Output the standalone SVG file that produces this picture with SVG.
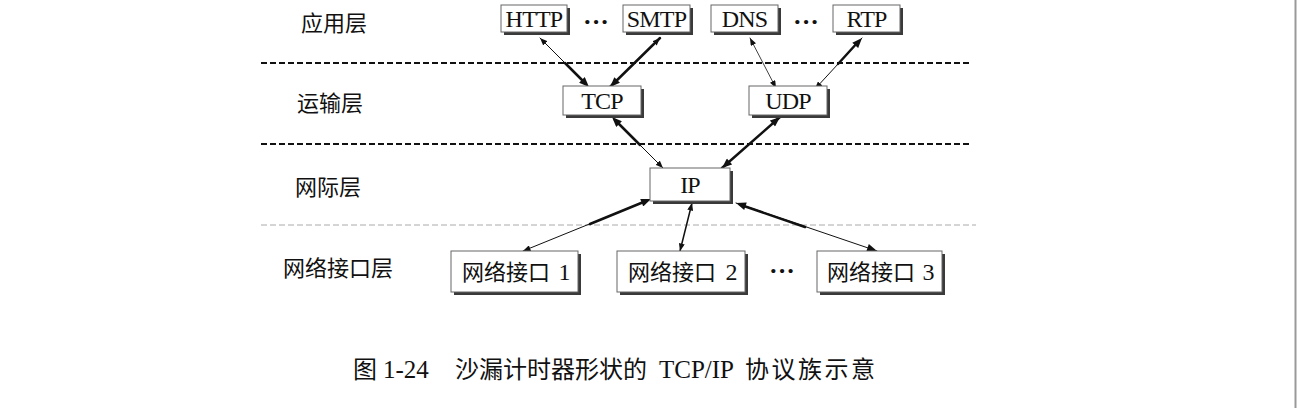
<svg xmlns="http://www.w3.org/2000/svg" width="1297" height="408" viewBox="0 0 1297 408">
<style>
.bx{fill:#fff;stroke:#666;stroke-width:1}
.sh{fill:#3a3a3a}
.lt{font-family:"Liberation Serif","Noto Sans CJK SC",serif;font-size:24px;letter-spacing:-0.8px;fill:#111;text-anchor:middle}
.cj{font-family:"Noto Sans CJK SC",sans-serif;font-size:22px;letter-spacing:0;fill:#111}
.dots{font-family:"Liberation Serif",serif;font-size:26px;font-weight:bold;fill:#111;text-anchor:middle}
.cap{font-family:"Liberation Serif","Noto Sans CJK SC",serif;font-size:25px;fill:#111}
.capc{font-family:"Noto Sans CJK SC",sans-serif;font-size:24px;fill:#111}
.dl{stroke:#111;stroke-width:2.2;stroke-dasharray:6 3;fill:none}
.dg{stroke:#aaa;stroke-width:1;stroke-dasharray:6 3;fill:none}
.c{stroke:#111;fill:none;stroke-linecap:round}
</style>
<defs>
<marker id="hb" markerUnits="userSpaceOnUse" viewBox="0 0 10 8" refX="10" refY="4" markerWidth="11" markerHeight="8" orient="auto-start-reverse"><path d="M0,0 L10,4 L0,8 z" fill="#111"/></marker>
<marker id="hs" markerUnits="userSpaceOnUse" viewBox="0 0 10 8" refX="10" refY="4" markerWidth="8" markerHeight="6" orient="auto-start-reverse"><path d="M0,0 L10,4 L0,8 z" fill="#111"/></marker>
</defs>
<rect width="1297" height="408" fill="#fff"/>
<line x1="1295.5" y1="0" x2="1295.5" y2="408" stroke="#999" stroke-width="2"/>

<g id="layers">
<line class="dl" x1="261" y1="63" x2="972" y2="63"/>
<line class="dl" x1="261" y1="144" x2="972" y2="144"/>
<line class="dg" x1="261" y1="225" x2="976" y2="225"/>
<text class="cj" x="301" y="31">应用层</text>
<text class="cj" x="297" y="111">运输层</text>
<text class="cj" x="295" y="195">网际层</text>
<text class="cj" x="283" y="276">网络接口层</text>
</g>

<g id="connectors">
<line class="c" x1="540" y1="38" x2="589" y2="87" stroke-width="1" marker-start="url(#hs)" marker-end="url(#hb)"/>
<line class="c" x1="565" y1="63" x2="585" y2="83" stroke-width="2.5"/>
<line class="c" x1="660" y1="38" x2="610" y2="87" stroke-width="2.5" marker-start="url(#hs)" marker-end="url(#hb)"/>
<line class="c" x1="750" y1="38" x2="776" y2="88" stroke-width="0.8" stroke="#444" marker-start="url(#hs)" marker-end="url(#hs)"/>
<line class="c" x1="862" y1="38" x2="815" y2="89" stroke-width="1" marker-start="url(#hb)" marker-end="url(#hs)"/>
<line class="c" x1="858" y1="42" x2="838" y2="64" stroke-width="2.5"/>
<line class="c" x1="612" y1="117" x2="663" y2="168" stroke-width="1" marker-start="url(#hb)" marker-end="url(#hs)"/>
<line class="c" x1="615" y1="120" x2="640" y2="145" stroke-width="2.5"/>
<line class="c" x1="780" y1="117" x2="722" y2="168" stroke-width="2.5" marker-start="url(#hb)" marker-end="url(#hb)"/>
<line class="c" x1="651" y1="199" x2="523" y2="251" stroke-width="1" marker-start="url(#hb)" marker-end="url(#hs)"/>
<line class="c" x1="646" y1="201" x2="590" y2="224" stroke-width="2.5"/>
<line class="c" x1="692" y1="203" x2="680" y2="251" stroke-width="1.5" marker-start="url(#hs)" marker-end="url(#hs)"/>
<line class="c" x1="736" y1="203" x2="877" y2="251" stroke-width="1" marker-start="url(#hb)" marker-end="url(#hb)"/>
<line class="c" x1="741" y1="205" x2="805" y2="227" stroke-width="2.5"/>
</g>

<g id="http"><rect class="sh" x="504" y="8" width="66" height="27"/><rect class="bx" x="501" y="5" width="66" height="27"/><text class="lt" x="534" y="27">HTTP</text></g>
<g id="dots1"><text class="dots" x="596" y="30">···</text></g>
<g id="smtp"><rect class="sh" x="626" y="8" width="67" height="27"/><rect class="bx" x="623" y="5" width="67" height="27"/><text class="lt" x="656.5" y="27">SMTP</text></g>
<g id="dns"><rect class="sh" x="714" y="8" width="67" height="27"/><rect class="bx" x="711" y="5" width="67" height="27"/><text class="lt" x="744.5" y="27">DNS</text></g>
<g id="dots2"><text class="dots" x="806" y="30">···</text></g>
<g id="rtp"><rect class="sh" x="836" y="8" width="67" height="27"/><rect class="bx" x="833" y="5" width="67" height="27"/><text class="lt" x="866.5" y="27">RTP</text></g>

<g id="tcp"><rect class="sh" x="566" y="89" width="78" height="29"/><rect class="bx" x="563" y="86" width="78" height="29"/><text class="lt" x="602" y="109">TCP</text></g>
<g id="udp"><rect class="sh" x="752" y="89" width="78" height="29"/><rect class="bx" x="749" y="86" width="78" height="29"/><text class="lt" x="788" y="109">UDP</text></g>

<g id="ip"><rect class="sh" x="653" y="171" width="80" height="33"/><rect class="bx" x="650" y="168" width="80" height="33"/><text class="lt" x="690" y="193">IP</text></g>

<g id="if1"><rect class="sh" x="454" y="254" width="127" height="41"/><rect class="bx" x="451" y="251" width="127" height="41"/><text class="lt" x="514.5" y="281"><tspan class="cj" style="text-anchor:start" x="462" y="280">网络接口</tspan><tspan x="564">1</tspan></text></g>
<g id="if2"><rect class="sh" x="620" y="254" width="128" height="41"/><rect class="bx" x="617" y="251" width="128" height="41"/><text class="lt" x="681" y="281"><tspan class="cj" style="text-anchor:start" x="628" y="280">网络接口</tspan><tspan x="731">2</tspan></text></g>
<g id="dots3"><text class="dots" x="782" y="279">···</text></g>
<g id="if3"><rect class="sh" x="820" y="254" width="125" height="41"/><rect class="bx" x="817" y="251" width="125" height="41"/><text class="lt" x="879.5" y="281"><tspan class="cj" style="text-anchor:start" x="827" y="280">网络接口</tspan><tspan x="928">3</tspan></text></g>

<g id="caption">
<text class="cap" y="378"><tspan class="capc" x="353">图</tspan><tspan x="383">1-24</tspan><tspan class="capc" x="455">沙漏计时器形状的</tspan><tspan x="659">TCP/IP</tspan><tspan class="capc" x="745" letter-spacing="2.5">协议族示意</tspan></text>
</g>
</svg>
